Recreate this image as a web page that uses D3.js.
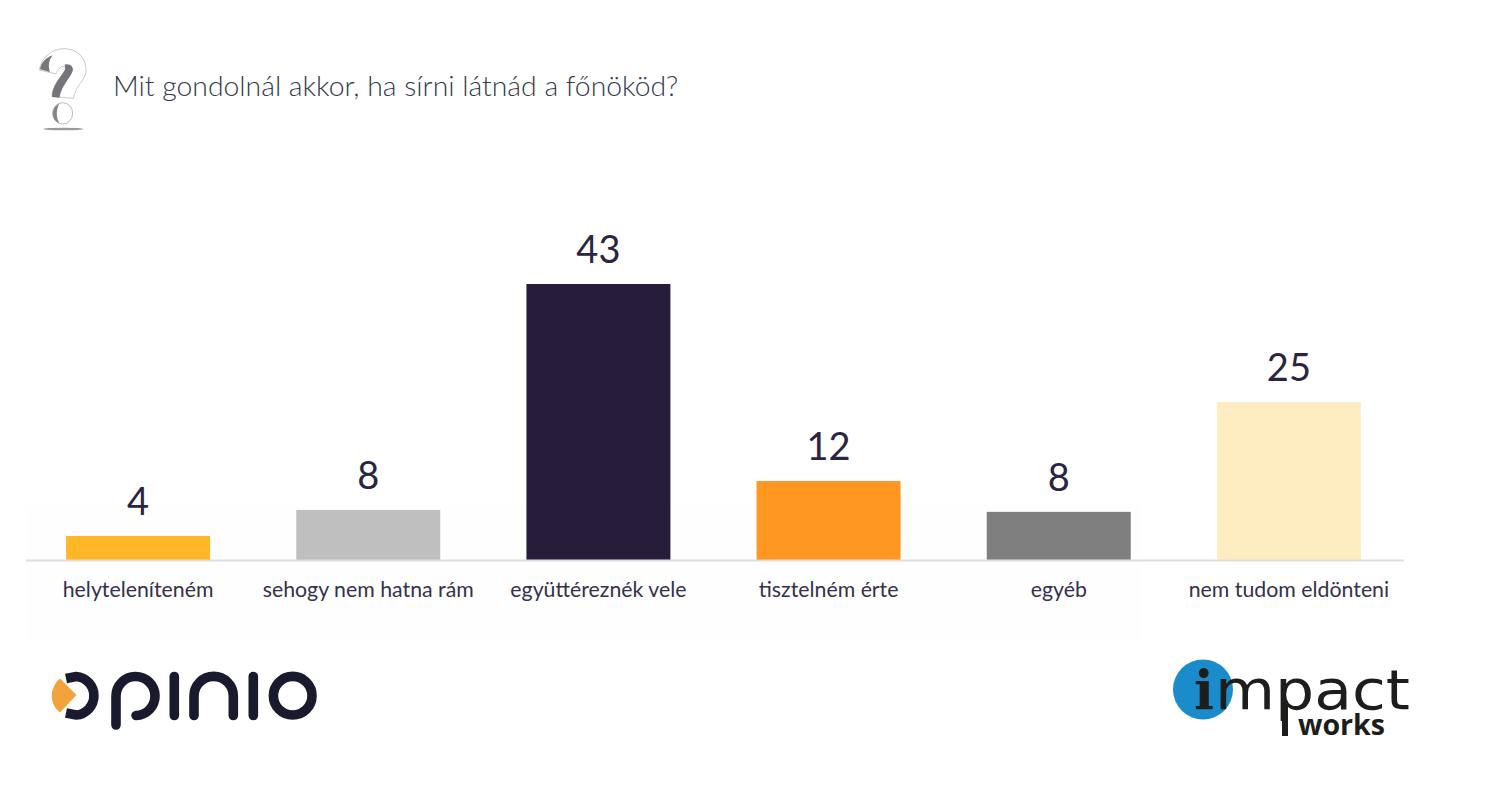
<!DOCTYPE html>
<html><head><meta charset="utf-8">
<script src="https://cdnjs.cloudflare.com/ajax/libs/d3/7.8.5/d3.min.js"></script>
<style>html,body{margin:0;padding:0;background:#fff;overflow:hidden}svg{display:block}</style>
</head><body><svg id="c" width="1506" height="806"></svg>
<script>
const titleText = "Mit gondolnál akkor, ha sírni látnád a főnököd?";
const categories = ["helyteleníteném","sehogy nem hatna rám","együttéreznék vele","tisztelném érte","egyéb","nem tudom eldönteni"];
const values = [3.75, 7.8, 43, 12.3, 7.5, 24.6];
const valueLabels = ["4","8","43","12","8","25"];
const colors = ["#ffb727","#bfbfbf","#271d3b","#ff9721","#7f7f7f","#fdedc1"];

const svg = d3.select("#c");
const font = "Lato, sans-serif";
const ink = "#2a2542";

// faint panel behind chart
svg.append("rect").attr("x",27).attr("y",505).attr("width",1113).attr("height",135).attr("fill","#fefefe");

// title
svg.append("text").attr("x",113).attr("y",96).attr("font-family",font).attr("font-weight",300)
  .attr("font-size",28.35).attr("fill","#333a4d").text(titleText);

// question-mark icon
const q = svg.append("g").attr("transform","translate(20,30) scale(0.3333)");
q.append("path").attr("d","M58,120 C62,85 95,55 135,56 C175,58 200,85 198,125 C196,150 168,165 160,205 L96,200 C96,165 125,140 136,118 C135,100 115,112 108,132 Z")
  .attr("fill","#fff").attr("stroke","#c9c9cb").attr("stroke-width",3);
q.append("path").attr("d","M60,118 C64,98 76,84 98,76 C86,92 84,108 90,126 Z").attr("fill","#77777e");
q.append("path").attr("d","M134,104 C150,100 162,110 158,124 C148,148 126,165 118,203 L96,200 C96,165 125,140 136,118 Z").attr("fill","#74747b");
q.append("ellipse").attr("cx",128).attr("cy",250).attr("rx",30).attr("ry",32).attr("fill","#fff").attr("stroke","#b9b9bc").attr("stroke-width",3);
q.append("path").attr("d","M118,221 C92,232 92,268 118,280 C108,262 108,238 118,221 Z").attr("fill","#85858a");
q.append("ellipse").attr("cx",130).attr("cy",297).attr("rx",60).attr("ry",4).attr("fill","#9a9a9d");

// chart
const baseY = 560;
const x = d3.scaleBand().domain(categories).range([23,1404]).paddingInner(0.3745).paddingOuter(0.18725);
const y = d3.scaleLinear().domain([0,43]).range([baseY,284]);

svg.append("g").selectAll("rect").data(values).join("rect")
  .attr("x",(d,i)=>x(categories[i])).attr("width",x.bandwidth())
  .attr("y",d=>y(d)).attr("height",d=>baseY-y(d))
  .attr("fill",(d,i)=>colors[i]);

svg.append("g").selectAll("text").data(values).join("text")
  .attr("x",(d,i)=>x(categories[i])+x.bandwidth()/2).attr("y",d=>y(d)-21)
  .attr("text-anchor","middle").attr("font-family",font).attr("font-size",38)
  .attr("fill",ink).text((d,i)=>valueLabels[i]);

const axis = svg.append("g").attr("transform",`translate(0,${baseY})`)
  .call(d3.axisBottom(x).tickSize(0).tickSizeOuter(0).tickPadding(22));
axis.select(".domain").attr("d","M26,0.5H1404").attr("stroke","#dedede").attr("stroke-width",2);
axis.selectAll("text").attr("font-family",font).attr("font-size",21.3).attr("fill","#35314a");

// opinio logo
const op = svg.append("g").attr("fill","none").attr("stroke","#1a1a2e").attr("stroke-width",9.6).attr("stroke-linecap","round");
op.append("path").attr("d","M66,678.5 L76,676.5 A19.3,19.3 0 0 1 76,715 L66,713").attr("stroke-linecap","butt");
op.append("path").attr("d","M116,725 V696 A19.5,19.5 0 1 1 136,715.5");
op.append("path").attr("d","M174.3,676.5 V715.5");
op.append("path").attr("d","M194,715.5 V696 A19.6,19.6 0 0 1 233.3,696 V715.5");
op.append("path").attr("d","M253.3,676.5 V715.5");
op.append("circle").attr("cx",292.7).attr("cy",695.7).attr("r",19.3);
svg.append("path").attr("d","M60,678.5 L76.5,695 L60,712.5 C49,704 49,688 60,678.5 Z").attr("fill","#f2a33c");

// impact works logo
svg.append("circle").attr("cx",1203).attr("cy",689.5).attr("r",30).attr("fill","#1b8ccb");
svg.append("text").attr("x",1194).attr("y",709).attr("font-family","'DejaVu Serif', serif").attr("font-weight",700).attr("font-size",55)
  .attr("textLength",20).attr("lengthAdjust","spacingAndGlyphs").attr("fill","#1d1d1b").text("i");
svg.append("text").attr("x",1215).attr("y",709).attr("font-family","'DejaVu Sans', sans-serif").attr("font-size",55)
  .attr("textLength",195).attr("lengthAdjust","spacingAndGlyphs").attr("fill","#1d1d1b").text("mpact");
svg.append("rect").attr("x",1282).attr("y",705).attr("width",6).attr("height",31).attr("fill","#1d1d1b");
svg.append("text").attr("x",1298).attr("y",735).attr("font-family","'Open Sans', sans-serif").attr("font-weight",700)
  .attr("font-size",29).attr("textLength",87).attr("lengthAdjust","spacingAndGlyphs").attr("fill","#1d1d1b").text("works");
</script></body></html>
